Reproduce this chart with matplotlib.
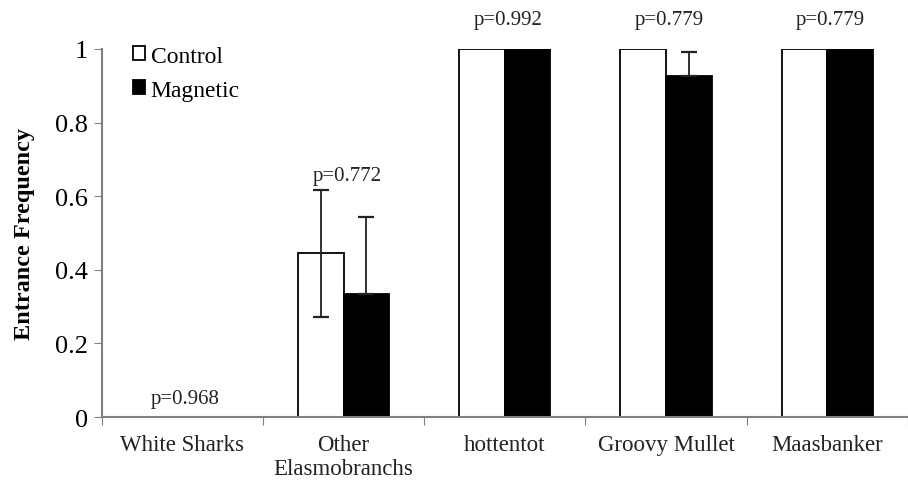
import numpy as np
import matplotlib.pyplot as plt

plt.rcParams['font.family'] = ['Liberation Serif', 'DejaVu Serif']

categories = ['White Sharks', 'Other\nElasmobranchs', 'hottentot', 'Groovy Mullet', 'Maasbanker']
control = [0.0, 0.445, 1.0, 1.0, 1.0]
magnetic = [0.0, 0.333, 1.0, 0.927, 1.0]
control_err = [0.0, 0.172, 0.0, 0.0, 0.0]
magnetic_err = [0.0, 0.21, 0.0, 0.064, 0.0]
p_values = ['p=0.968', 'p=0.772', 'p=0.992', 'p=0.779', 'p=0.779']
p_heights = [0.05, 0.655, 1.08, 1.08, 1.08]

fig = plt.figure(figsize=(9.08, 4.85), dpi=100)
ax = fig.add_axes([0.112, 0.138, 0.888, 0.759])

x = np.arange(len(categories))
w = 0.283
ax.bar(x - w / 2, control, w, color='white', edgecolor='black', linewidth=1.3,
       label='Control', zorder=2)
ax.bar(x + w / 2, magnetic, w, color='black', edgecolor='black', linewidth=1.3,
       label='Magnetic', zorder=2)

for i in range(len(categories)):
    if control_err[i] > 0:
        ax.errorbar(x[i] - w / 2, control[i], yerr=control_err[i], fmt='none',
                    ecolor='#222222', elinewidth=1.3, capsize=5.5, capthick=1.6, zorder=3)
    if magnetic_err[i] > 0:
        ax.errorbar(x[i] + w / 2, magnetic[i], yerr=[[0], [magnetic_err[i]]], fmt='none',
                    ecolor='#222222', elinewidth=1.3, capsize=5.5, capthick=1.6, zorder=3)

for i, (txt, h) in enumerate(zip(p_values, p_heights)):
    ax.text(x[i] + 0.02, h, txt, ha='center', va='center', fontsize=15, color='#222222',
            clip_on=False)

ax.set_xlim(-0.5, 4.46)
ax.set_ylim(0, 1)
ax.set_yticks([0, 0.2, 0.4, 0.6, 0.8, 1.0])
ax.set_yticklabels(['0', '0.2', '0.4', '0.6', '0.8', '1'], fontsize=19)
ax.set_xticks(np.arange(-0.5, 4.6, 1.0))
ax.set_xticklabels([])
ax.set_xticks(x, minor=True)
ax.set_xticklabels(categories, minor=True, fontsize=16.5, color='#222222')
ax.tick_params(axis='x', which='minor', length=0, pad=12)
ax.tick_params(axis='x', which='major', length=6, color='#808080', direction='out')
ax.tick_params(axis='y', length=6, color='#808080', direction='out', pad=4)
ax.set_ylabel('Entrance Frequency', fontsize=17.5, fontweight='bold', labelpad=14)

for s in ['top', 'right']:
    ax.spines[s].set_visible(False)
for s in ['left', 'bottom']:
    ax.spines[s].set_color('#808080')
    ax.spines[s].set_linewidth(1.5)

leg = ax.legend(loc='upper left', bbox_to_anchor=(0.027, 1.035), frameon=False,
                fontsize=17, handlelength=0.5, handleheight=0.5, handletextpad=0.25,
                labelspacing=0.55, borderaxespad=0)

fig.savefig('out.png', dpi=100)
